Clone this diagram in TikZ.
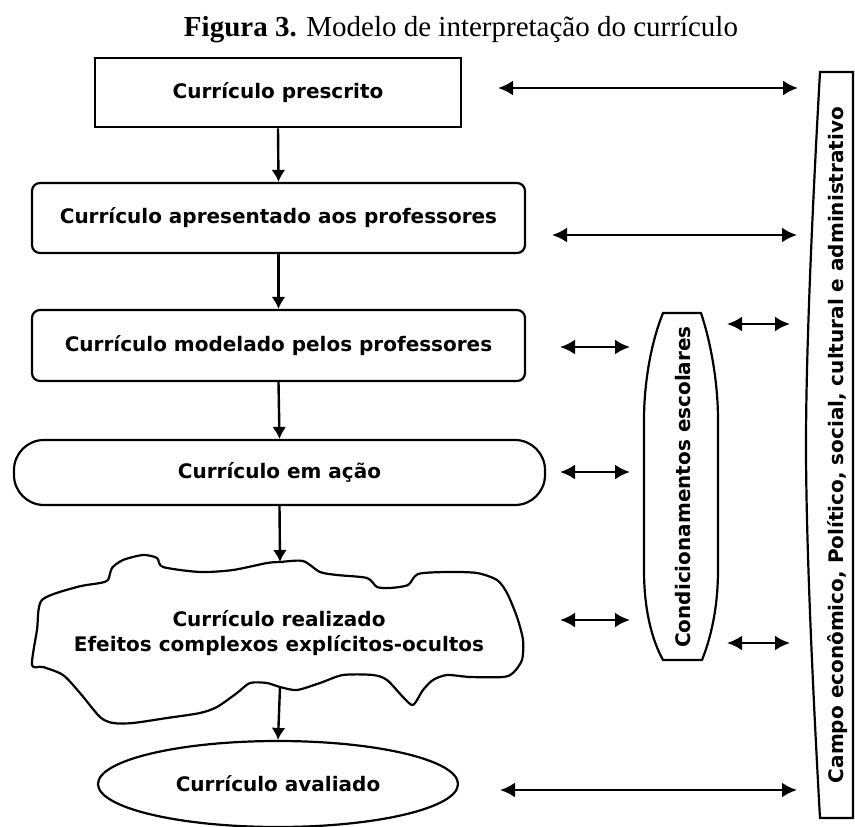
\documentclass[tikz,border=0pt]{standalone}
\usepackage{fontspec}
\setmainfont{Liberation Serif}
\newfontfamily\djfont{DejaVu Sans}
\usetikzlibrary{arrows.meta,shapes.geometric}
\begin{document}
\begin{tikzpicture}[x=1pt,y=-1pt,
  lbl/.style={font=\djfont\bfseries\fontsize{20}{25}\selectfont, align=center},
  boxline/.style={draw, line width=2.2pt},
  vflow/.style={line width=2.4pt, -{Latex[length=12pt,width=14pt]}},
  hflow/.style={line width=2.6pt, {Latex[length=15pt,width=15pt]}-{Latex[length=15pt,width=15pt]}}
]
\useasboundingbox (0,0) rectangle (855,827);

% title
\node[font=\fontsize{29}{34}\selectfont] (title) at (461,30) {\textbf{Figura 3.} Modelo de interpretação do currículo};

% left column
\node[boxline, lbl, line width=2.6pt, minimum width=366pt, minimum height=69pt, inner sep=0pt] (pres) at (278,92.5) {Currículo prescrito};
\node[boxline, lbl, rounded corners=8pt, minimum width=493pt, minimum height=70pt, inner sep=0pt] (apre) at (278.5,218) {Currículo apresentado aos professores};
\node[boxline, lbl, rounded corners=8pt, minimum width=493pt, minimum height=71pt, inner sep=0pt] (mode) at (278.5,345.5) {Currículo modelado pelos professores};
\node[boxline, lbl, rounded corners=30pt, minimum width=531pt, minimum height=65pt, inner sep=0pt] (acao) at (279.5,472.5) {Currículo em ação};

% cloud
\draw[line width=2.2pt, line join=round] plot[smooth cycle, tension=0.45] coordinates {
 (42,600) (77,587) (100,583) (108,580) (112,568) (123,560) (143,555) (157,558) (163,567)
 (200,572) (233,570) (267,563) (280,562) (303,561) (320,572) (337,575) (367,578) (377,587)
 (390,588) (408,585) (418,574) (447,572) (477,573) (497,580) (507,593) (517,617) (523,640)
 (522,660) (513,673) (503,677) (470,677) (447,675) (433,680) (423,690) (413,705) (403,697)
 (387,680) (373,675) (343,675) (320,683) (297,690) (280,687) (267,683) (250,683) (237,693)
 (217,707) (200,713) (167,718) (133,723) (113,723) (100,717) (80,693) (63,675) (43,667)
 (32,665) (37,630)};
\coordinate (cloudtop) at (280,562);
\coordinate (cloudbot) at (280,687);
\node[lbl] (real) at (279,633) {Currículo realizado\\Efeitos complexos explícitos-ocultos};

\node[ellipse, boxline, lbl, minimum width=360pt, minimum height=86pt, inner sep=0pt] (aval) at (278,784) {Currículo avaliado};

% vertical arrows
\draw[vflow] (pres.south) -- (apre.north);
\draw[vflow] (apre.south) -- (mode.north);
\draw[vflow] (mode.south) -- (acao.north);
\draw[vflow] (acao.south) -- (cloudtop);
\draw[vflow] (cloudbot) -- (aval.north);

% Condicionamentos escolares
\draw[line width=2.2pt] (663,313) -- (701,313)
  .. controls (710,340) and (718,380) .. (718,420) -- (718,570)
  .. controls (718,610) and (710,640) .. (702,660) -- (663,660)
  .. controls (652,640) and (644,610) .. (644,570) -- (644,420)
  .. controls (644,380) and (652,340) .. (663,313) -- cycle;
\node[lbl, rotate=90] (cond) at (683,487) {Condicionamentos escolares};

% Campo ...
\draw[line width=2.2pt] (853,72) -- (820,72)
  .. controls (810,250) and (806,370) .. (806,445)
  .. controls (806,520) and (810,640) .. (820,818) -- (853,818) -- cycle;
\node[lbl, rotate=90] (campo) at (838,445) {Campo econômico, Político, social, cultural e administrativo};

% horizontal arrows
\coordinate (h1a) at (498,88);  \coordinate (h1b) at (798,88);
\coordinate (h2a) at (552,235); \coordinate (h2b) at (797,235);
\coordinate (h3a) at (560,347); \coordinate (h3b) at (630,347);
\coordinate (h4a) at (727,324); \coordinate (h4b) at (790,324);
\coordinate (h5a) at (560,472); \coordinate (h5b) at (630,472);
\coordinate (h6a) at (560,620); \coordinate (h6b) at (630,620);
\coordinate (h7a) at (727,643); \coordinate (h7b) at (790,643);
\coordinate (h8a) at (500,790); \coordinate (h8b) at (797,790);
\draw[hflow] (h1a) -- (h1b);
\draw[hflow] (h2a) -- (h2b);
\draw[hflow] (h3a) -- (h3b);
\draw[hflow] (h4a) -- (h4b);
\draw[hflow] (h5a) -- (h5b);
\draw[hflow] (h6a) -- (h6b);
\draw[hflow] (h7a) -- (h7b);
\draw[hflow] (h8a) -- (h8b);
\end{tikzpicture}
\end{document}
